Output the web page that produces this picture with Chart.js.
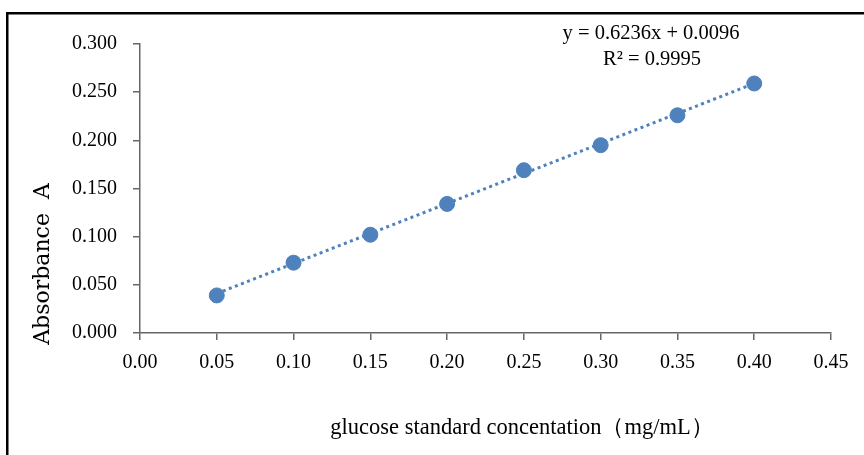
<!DOCTYPE html>
<html>
<head>
<meta charset="utf-8">
<script src="https://cdn.jsdelivr.net/npm/chart.js@4/dist/chart.umd.min.js"></script>
<style>
html,body{margin:0;padding:0;background:#fff;}
#wrap{position:relative;width:864px;height:455px;}
</style>
</head>
<body>
<div id="wrap"><canvas id="curve" width="864" height="455"></canvas></div>
<script>
// glucose standard curve
const conc=[0.05,0.10,0.15,0.20,0.25,0.30,0.35,0.40];
const absorb=[0.039,0.073,0.102,0.134,0.169,0.195,0.226,0.259];
const trendX=[0.05,0.40];
const trendY=[0.041,0.259];
const xTicks=[0,0.05,0.10,0.15,0.20,0.25,0.30,0.35,0.40,0.45];
const yTicks=[0,0.05,0.10,0.15,0.20,0.25,0.30];
const equation="y = 0.6236x + 0.0096";
const rSquared="R² = 0.9995";
const xTitle="glucose standard concentation（mg/mL）";
const yTitle="Absorbance  A";

const blue="#4f81bd";
const axisColor="#666";
const serif="'Liberation Serif','Times New Roman',serif";

const extras={
id:"extras",
afterDraw(chart){
const ctx=chart.ctx;
ctx.save();
// frame
ctx.fillStyle="#000";
ctx.fillRect(6,12,858,2.5);
ctx.fillRect(6,12,2.5,443);
// equation
ctx.textAlign="center";
ctx.textBaseline="middle";
ctx.font="20.5px "+serif;
ctx.fillText(equation,651,34);
ctx.fillText(rSquared,652,60);
// x title
ctx.font="22.5px "+serif;
ctx.fillText(xTitle,522,428);
// y title
ctx.translate(43,264);
ctx.rotate(-Math.PI/2);
ctx.font="22px 'DejaVu Serif',serif";
ctx.fillText(yTitle,0,0);
ctx.restore();
}
};

new Chart(document.getElementById("curve"),{
type:"scatter",
data:{
datasets:[
{
data:conc.map((x,i)=>({x:x,y:absorb[i]})),
backgroundColor:blue,
borderColor:blue,
pointRadius:7.5,
pointHoverRadius:7.5,
order:1
},
{
type:"line",
data:trendX.map((x,i)=>({x:x,y:trendY[i]})),
borderColor:blue,
borderWidth:3,
borderDash:[3,3.5],
pointRadius:0,
fill:false,
order:2
}
]
},
plugins:[extras],
options:{
responsive:false,
animation:false,
layout:{padding:{top:44,right:33,left:0,bottom:0}},
plugins:{legend:{display:false},tooltip:{enabled:false}},
scales:{
x:{
type:"linear",
min:0,max:0.45,
afterBuildTicks:s=>{s.ticks=xTicks.map(v=>({value:v}));},
afterFit:s=>{s.height=122;},
border:{color:axisColor,width:1.5},
grid:{drawOnChartArea:false,drawTicks:true,tickLength:7,color:axisColor,lineWidth:1.5},
ticks:{padding:11,color:"#000",font:{family:serif,size:20},callback:v=>Number(v).toFixed(2),maxRotation:0}
},
y:{
type:"linear",
min:0,max:0.3,
afterBuildTicks:s=>{s.ticks=yTicks.map(v=>({value:v}));},
afterFit:s=>{s.width=140;},
border:{color:axisColor,width:1.5},
grid:{drawOnChartArea:false,drawTicks:true,tickLength:7,color:axisColor,lineWidth:1.5},
ticks:{padding:16,color:"#000",font:{family:serif,size:20},callback:v=>Number(v).toFixed(3)}
}
}
}
});
</script>
</body>
</html>
